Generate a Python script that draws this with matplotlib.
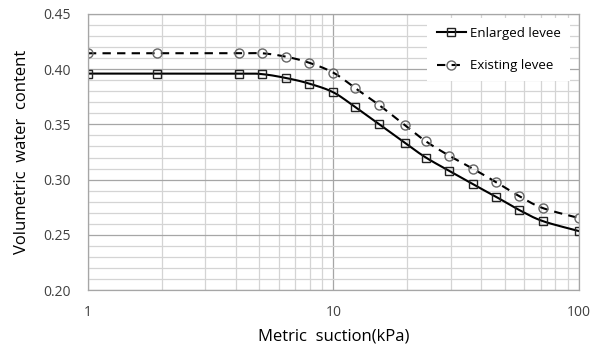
import numpy as np
import matplotlib
matplotlib.use("Agg")
import matplotlib.pyplot as plt
from matplotlib.ticker import FixedLocator, NullFormatter, FixedFormatter

plt.rcParams['font.family'] = ['Open Sans', 'DejaVu Sans']

# data
suction = [1, 1.91, 4.13, 5.13, 6.41, 7.95, 10, 12.3, 15.4, 19.5, 23.8, 29.6, 36.9, 45.9, 57.1, 71.1, 100]
enlarged = [0.396, 0.396, 0.396, 0.3955, 0.392, 0.387, 0.379, 0.3655, 0.350, 0.3334,
            0.320, 0.308, 0.296, 0.2845, 0.2725, 0.2625, 0.2534]
existing = [0.4144, 0.4144, 0.4144, 0.4144, 0.4113, 0.4059, 0.3968, 0.3827, 0.3673, 0.3495,
            0.3347, 0.3217, 0.310, 0.2978, 0.2851, 0.2743, 0.2652]
series_names = ["Enlarged levee", "Existing levee"]
x_ticks = [1, 10, 100]
x_tick_labels = ["1", "10", "100"]
y_ticks = [0.20, 0.25, 0.30, 0.35, 0.40, 0.45]


def smooth(xs, ys, n=20):
    # excel-like smoothed line (catmull-rom) in screen-ish space
    u = np.log10(xs) * 245.5
    v = np.array(ys) * 1104.0
    P = np.column_stack([u, v])
    P = np.vstack([P[0], P, P[-1]])
    out = []
    t = np.linspace(0, 1, n)
    for i in range(1, len(P) - 2):
        p0, p1, p2, p3 = P[i - 1], P[i], P[i + 1], P[i + 2]
        c1 = p1 + (p2 - p0) / 6.0
        c2 = p2 - (p3 - p1) / 6.0
        b = ((1 - t) ** 3)[:, None] * p1 + (3 * (1 - t) ** 2 * t)[:, None] * c1 \
            + (3 * (1 - t) * t ** 2)[:, None] * c2 + (t ** 3)[:, None] * p2
        out.append(b)
    B = np.vstack(out)
    return 10 ** (B[:, 0] / 245.5), B[:, 1] / 1104.0


fig = plt.figure(figsize=(5.98, 3.49), dpi=100)
ax = fig.add_axes([0.147, 0.169, 0.821, 0.791])
ax.set_xscale('log')
ax.set_xlim(1, 100)
ax.set_ylim(0.20, 0.45)

# grid
ax.xaxis.set_major_locator(FixedLocator(x_ticks))
ax.xaxis.set_major_formatter(FixedFormatter(x_tick_labels))
minor_x = [m * d for d in (1, 10) for m in range(2, 10)]
ax.xaxis.set_minor_locator(FixedLocator(minor_x))
ax.xaxis.set_minor_formatter(NullFormatter())
ax.yaxis.set_major_locator(FixedLocator(y_ticks))
ax.yaxis.set_minor_locator(FixedLocator(np.arange(0.20, 0.451, 0.01)))
ax.set_yticklabels(["%.2f" % v for v in y_ticks])
ax.grid(which='major', color='#a6a6a6', lw=0.9)
ax.grid(which='minor', color='#d4d4d4', lw=0.9)
ax.set_axisbelow(True)
ax.tick_params(which='both', length=0)
ax.tick_params(axis='y', pad=12, labelsize=10, colors='#404040')
ax.tick_params(axis='x', pad=11, labelsize=10, colors='#404040')
for s in ax.spines.values():
    s.set_color('#a6a6a6')
    s.set_linewidth(0.9)

sx, sy = smooth(suction, enlarged)
ax.plot(sx, sy, color='black', lw=1.5)
ax.plot(suction, enlarged, ls='none', marker='s', ms=6, mfc='none', mec='#222222', mew=1.0)
ex, ey = smooth(suction, existing)
ax.plot(ex, ey, color='black', lw=1.5, ls=(0, (4, 3)))
ax.plot(suction, existing, ls='none', marker='o', ms=6.5, mfc='none', mec='#666666', mew=1.0)

# legend handles combine line + marker
h1, = ax.plot([], [], color='black', lw=1.5, marker='s', ms=6, mfc='none', mec='#222222')
h2, = ax.plot([], [], color='black', lw=1.5, ls=(0, (4, 3)), marker='o', ms=6.5, mfc='none', mec='#666666')
leg = ax.legend([h1, h2], series_names, loc='upper right', bbox_to_anchor=(0.995, 1.01),
                fontsize=9.5, frameon=True, fancybox=False, edgecolor='none',
                facecolor='white', framealpha=1, labelspacing=1.45, handlelength=2.2,
                handletextpad=0.3, borderpad=0.7)

ax.set_ylabel("Volumetric  water  content", fontsize=12, labelpad=10)
ax.set_xlabel("Metric  suction(kPa)", fontsize=12, labelpad=6)

fig.savefig("out.png", dpi=100)
